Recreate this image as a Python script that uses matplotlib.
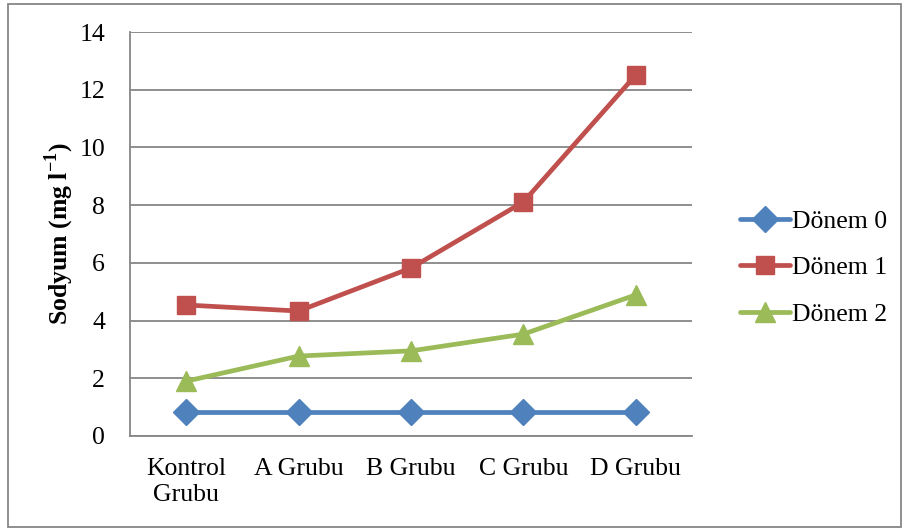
import matplotlib.pyplot as plt
from matplotlib.patches import Rectangle

plt.rcParams["font.family"] = ["Liberation Serif", "DejaVu Serif"]
plt.rcParams["mathtext.fontset"] = "custom"
plt.rcParams["mathtext.rm"] = "Liberation Serif"
plt.rcParams["mathtext.bf"] = "Liberation Serif:bold"

# Sodium content per group and period
groups = ["Kontrol\nGrubu", "A Grubu", "B Grubu", "C Grubu", "D Grubu"]
donem0 = [0.83, 0.83, 0.83, 0.83, 0.83]
donem1 = [4.54, 4.33, 5.82, 8.11, 12.51]
donem2 = [1.90, 2.77, 2.95, 3.53, 4.89]

series = [
    ("Dönem 0", donem0, "#4F81BD", "D", 13),
    ("Dönem 1", donem1, "#C0504D", "s", 12.5),
    ("Dönem 2", donem2, "#9BBB59", "^", 14),
]

FS = 18.5

fig = plt.figure(figsize=(9.04, 5.31), dpi=100)
ax = fig.add_axes([130 / 904, 1 - 436 / 531, 562 / 904, 404 / 531])

x = range(len(groups))
for name, vals, color, marker, ms in series:
    ax.plot(x, vals, color=color, lw=3.4, marker=marker, ms=ms,
            markeredgecolor=color, label=name, solid_capstyle="round")

ax.set_xlim(-0.5, len(groups) - 0.5)
ax.set_ylim(0, 14)
ax.set_yticks(range(0, 15, 2))
ax.set_xticks(list(x))
ax.set_xticklabels(groups, fontsize=FS, linespacing=1.2)
ax.tick_params(axis="y", labelsize=FS, length=0, pad=18)
ax.tick_params(axis="x", length=0, pad=16)
ax.grid(axis="y", color="#868686", lw=1.3)
ax.set_axisbelow(True)

for side in ["top", "right"]:
    ax.spines[side].set_visible(False)
for side in ["left", "bottom"]:
    ax.spines[side].set_color("#868686")
    ax.spines[side].set_linewidth(1.3)

ax.set_ylabel(r"Sodyum (mg l$^{\mathbf{-1}}$)", fontsize=FS,
              fontweight="bold", labelpad=2)

ax.legend(loc="center left", bbox_to_anchor=(1.085, 0.416), frameon=False,
          fontsize=FS, handlelength=1.95, handletextpad=0.1,
          labelspacing=0.92, borderpad=0, borderaxespad=0)

# outer border around the chart
fig.patches.append(Rectangle((8 / 904, 4 / 531), 893 / 904, 523 / 531,
                             transform=fig.transFigure, fill=False,
                             edgecolor="#868686", lw=1.3))

fig.savefig("out.png", dpi=100)
